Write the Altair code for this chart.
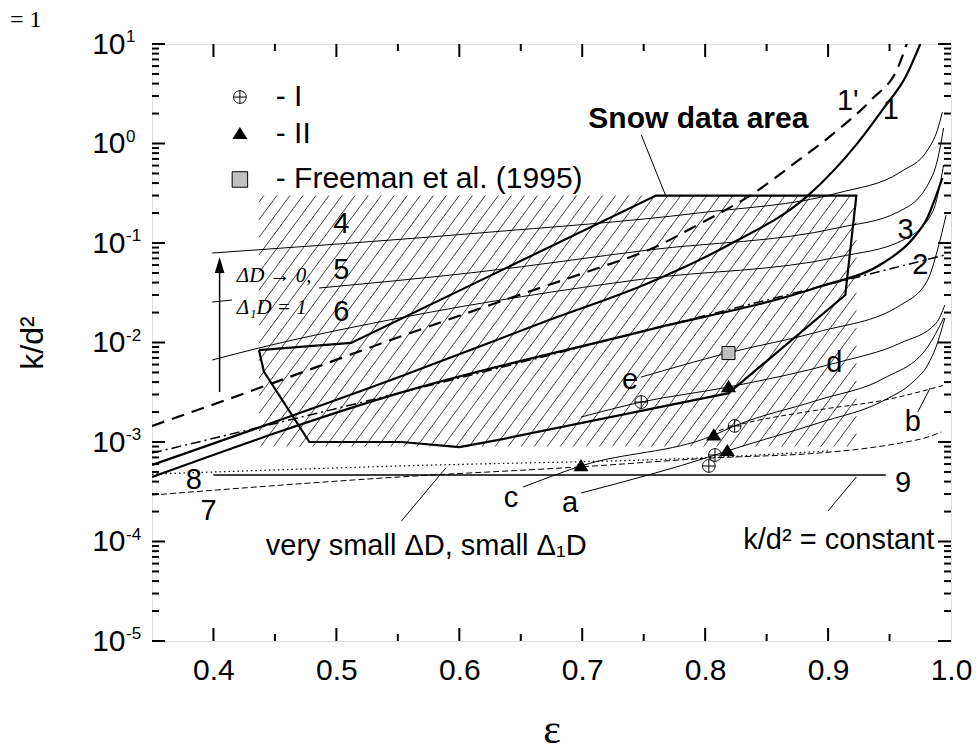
import altair as alt
import numpy as np
import pandas as pd

SANS = "Liberation Sans, Arial, sans-serif"
SERIF = "Liberation Serif, Times New Roman, serif"

EPS_DOMAIN = [0.35, 1.0]
K_DOMAIN = [1e-5, 10.0]
X_MAJOR = [0.4, 0.5, 0.6, 0.7, 0.8, 0.9, 1.0]
X_MINOR = [0.45, 0.55, 0.65, 0.75, 0.85, 0.95]
Y_MAJOR = [1e-5, 1e-4, 1e-3, 1e-2, 1e-1, 1e0, 1e1]
Y_EXP = ["-5", "-4", "-3", "-2", "-1", "0", "1"]
Y_MINOR = [m * 10.0 ** p for p in range(-5, 1) for m in range(2, 10)]

# ---- curves (eps, k/d^2) ----
C1P_EPS = [0.350, 0.410, 0.551, 0.632, 0.713, 0.754, 0.794, 0.841, 0.873, 0.908, 0.935, 0.957, 0.964]
C1P_K = [1.45e-3, 2.64e-3, 1.135e-2, 2.55e-2, 5.61e-2, 8.51e-2, 0.152, 0.326, 0.637, 1.37, 2.74, 5.87, 10.0]
C1_EPS = [0.350, 0.551, 0.673, 0.754, 0.819, 0.884, 0.924, 0.946, 0.963, 0.975]
C1_K = [5.87e-4, 4.50e-3, 1.68e-2, 3.96e-2, 9.55e-2, 0.303, 1.01, 2.33, 4.66, 10.0]
C2_EPS = [0.350, 0.551, 0.754, 0.892, 0.995]
C2_K = [7.74e-4, 3.10e-3, 1.34e-2, 3.61e-2, 7.57e-2]
C3_EPS = [0.350, 0.551, 0.754, 0.892, 0.946, 0.968, 0.981, 0.989, 0.993]
C3_K = [4.45e-4, 3.10e-3, 1.34e-2, 3.61e-2, 6.44e-2, 0.107, 0.182, 0.326, 0.45]
C4_EPS = [0.399, 0.616, 0.794, 0.908, 0.959, 0.981, 0.989, 0.993]
C4_K = [7.93e-2, 0.126, 0.200, 0.318, 0.518, 0.861, 1.37, 2.07]
C5_EPS = [0.486, 0.616, 0.754, 0.908, 0.957, 0.981, 0.989, 0.994]
C5_K = [3.53e-2, 5.12e-2, 8.51e-2, 0.142, 0.205, 0.383, 0.683, 1.43]
C5S_EPS = [0.399, 0.415]
C5S_K = [2.55e-2, 2.67e-2]
C6_EPS = [0.399, 0.437, 0.551, 0.750, 0.908, 0.961, 0.985, 0.994]
C6_K = [6.67e-3, 8.81e-3, 1.76e-2, 4.35e-2, 7.23e-2, 0.107, 0.205, 0.608]
E_EPS = [0.748, 0.818, 0.892, 0.959, 0.981, 0.989, 0.996]
E_K = [4.50e-3, 7.83e-3, 1.28e-2, 2.38e-2, 4.25e-2, 8.51e-2, 0.191]
D_EPS = [0.699, 0.748, 0.819, 0.906, 0.959, 0.988, 0.995]
D_K = [1.78e-3, 2.52e-3, 3.57e-3, 6.22e-3, 9.89e-3, 1.57e-2, 2.38e-2]
CC_EPS = [0.652, 0.699, 0.807, 0.824, 0.892, 0.946, 0.981, 0.994]
CC_K = [3.53e-4, 5.74e-4, 1.17e-3, 1.45e-3, 2.64e-3, 4.40e-3, 9.02e-3, 1.76e-2]
A_EPS = [0.699, 0.808, 0.818, 0.892, 0.946, 0.969, 0.981, 0.989, 0.995]
A_K = [3.07e-4, 7.40e-4, 8.13e-4, 1.55e-3, 2.64e-3, 4.01e-3, 5.94e-3, 9.89e-3, 1.76e-2]
B_EPS = [0.805, 0.824, 0.892, 0.946, 0.995]
B_K = [1.23e-3, 1.45e-3, 2.10e-3, 2.64e-3, 3.74e-3]
L7_EPS = [0.350, 0.551, 0.697, 0.805, 0.892, 0.933, 0.959, 0.981, 0.992]
L7_K = [2.93e-4, 4.45e-4, 5.61e-4, 6.90e-4, 7.74e-4, 8.71e-4, 9.77e-4, 1.12e-3, 1.26e-3]
L8_EPS = [0.350, 0.551, 0.811, 0.900]
L8_K = [4.76e-4, 5.74e-4, 7.06e-4, 8.13e-4]
L9_EPS = [0.400, 0.947]
L9_K = [4.66e-4, 4.66e-4]

# snow data area outline
POLY_EPS = [0.437, 0.512, 0.760, 0.923, 0.914, 0.819, 0.632, 0.600, 0.553, 0.478, 0.441, 0.437]
POLY_K = [8.4e-3, 9.9e-3, 0.30, 0.30, 3.0e-2, 3.1e-3, 1.05e-3, 8.9e-4, 1.0e-3, 1.0e-3, 5.1e-3, 8.4e-3]

# hatched region
HATCH_EPS = [0.437, 0.923]
HATCH_K = [9.0e-4, 0.30]
HATCH_STEP = 0.0106
HATCH_SLOPE = 16.7  # decades per unit eps

# measured points
CIRC_EPS = [0.748, 0.824, 0.808, 0.803]
CIRC_K = [2.52e-3, 1.45e-3, 7.40e-4, 5.74e-4]
TRI_EPS = [0.699, 0.807, 0.818, 0.819]
TRI_K = [5.74e-4, 1.17e-3, 8.13e-4, 3.57e-3]
SQ_EPS = [0.819]
SQ_K = [7.83e-3]

# legend
LEG_EPS = 0.4215
LEG_TEXT_EPS = 0.4507
LEG_K = [2.93, 1.25, 0.435]
LEG_TEXT = ["- I", "- II", "- Freeman et al. (1995)"]

# curve labels
LAB_TEXT = ["1'", "1", "2", "3", "4", "5", "6", "7", "8", "9", "a", "b", "c", "d", "e"]
LAB_EPS = [0.916, 0.951, 0.975, 0.963, 0.504, 0.504, 0.504, 0.396, 0.384, 0.961, 0.690, 0.969, 0.642, 0.905, 0.739]
LAB_K = [2.67, 2.17, 0.0601, 0.135, 0.155, 0.0536, 0.0203, 2.03e-4, 4.15e-4, 3.87e-4, 2.44e-4, 1.59e-3, 2.74e-4, 6.22e-3, 4.20e-3]

# pointer lines
PTR_EPS = [0.553, 0.900, 0.973, 0.748]
PTR_K = [1.61e-4, 2.03e-4, 2.00e-3, 1.22]
PTR_EPS2 = [0.589, 0.923, 0.983, 0.768]
PTR_K2 = [5.48e-4, 4.45e-4, 3.49e-3, 0.297]

ARROW_EPS = 0.405
ARROW_K = [3.18e-3, 0.066]
ARROW_HEAD_K = 0.0601

W, H = 799, 597

X_ENC = alt.X(
    "eps:Q",
    scale=alt.Scale(domain=EPS_DOMAIN, nice=False, zero=False),
    axis=alt.Axis(
        values=X_MAJOR, format=".1f", labelFontSize=30, labelFont=SANS, labelColor="black",
        labelPadding=14, ticks=False, domain=False, grid=False, labelFlush=False,
        labelOverlap=False, title="ε", titleFont=SERIF, titleFontSize=42,
        titleFontWeight="normal", titleColor="black", titleX=W / 2, titleY=101,
        titleBaseline="alphabetic", titleAlign="center",
    ),
)
Y_ENC = alt.Y(
    "k:Q",
    scale=alt.Scale(type="log", domain=K_DOMAIN, nice=False),
    axis=alt.Axis(
        values=Y_MAJOR, labelExpr="'10'", labelFontSize=30, labelFont=SANS, labelColor="black",
        labelPadding=27, labelAlign="right", labelBaseline="middle", ticks=False,
        domain=False, grid=False, labelOverlap=False, labelFlush=False,
        title="k/d²", titleFont=SANS, titleFontSize=32, titleFontWeight="normal",
        titleColor="black", titleX=-120, titleY=H / 2, titleAngle=270,
        titleAlign="center", titleBaseline="middle",
    ),
)


def line(eps, k, width=1.0, dash=None, interp="monotone"):
    df = pd.DataFrame({"eps": eps, "k": k, "i": list(range(len(eps)))})
    props = dict(color="black", strokeWidth=width, interpolate=interp, clip=True)
    if dash:
        props["strokeDash"] = dash
    return alt.Chart(df).mark_line(**props).encode(x=X_ENC, y=Y_ENC, order="i:Q")


# hatch segments
lo, hi = np.log10(HATCH_K[0]), np.log10(HATCH_K[1])
span = (hi - lo) / HATCH_SLOPE
rows = []
e = HATCH_EPS[0] - span + 0.004
while e < HATCH_EPS[1]:
    s = max(e, HATCH_EPS[0])
    t = min(e + span, HATCH_EPS[1])
    if t > s:
        rows.append({"eps": s, "k": 10 ** (lo + HATCH_SLOPE * (s - e)),
                     "eps2": t, "k2": 10 ** (lo + HATCH_SLOPE * (t - e))})
    e += HATCH_STEP
hatch = alt.Chart(pd.DataFrame(rows)).mark_rule(color="#111", strokeWidth=0.8).encode(
    x=X_ENC, y=Y_ENC, x2="eps2:Q", y2="k2:Q")

layers = [hatch]

# tick marks (inward)
ymaj = pd.DataFrame({"k": Y_MAJOR})
ymin = pd.DataFrame({"k": Y_MINOR})
xmaj = pd.DataFrame({"eps": X_MAJOR[:-1]})
xmin = pd.DataFrame({"eps": X_MINOR})
for df, ln in [(ymaj, 13), (ymin, 7)]:
    layers.append(alt.Chart(df).mark_rule(color="black", strokeWidth=2).encode(
        y=Y_ENC, x=alt.value(0), x2=alt.value(ln)))
    layers.append(alt.Chart(df).mark_rule(color="black", strokeWidth=2).encode(
        y=Y_ENC, x=alt.value(W), x2=alt.value(W - ln)))
for df, ln in [(xmaj, 13), (xmin, 7)]:
    layers.append(alt.Chart(df).mark_rule(color="black", strokeWidth=2).encode(
        x=X_ENC, y=alt.value(0), y2=alt.value(ln)))
    layers.append(alt.Chart(df).mark_rule(color="black", strokeWidth=2).encode(
        x=X_ENC, y=alt.value(H), y2=alt.value(H - ln)))

# exponents of y tick labels
exp_df = pd.DataFrame({"k": Y_MAJOR, "t": Y_EXP})
layers.append(alt.Chart(exp_df).mark_text(align="left", baseline="middle", dy=-7,
                                          fontSize=17, font=SANS, color="black").encode(
    y=Y_ENC, x=alt.value(-26), text="t:N"))

# curves
layers += [
    line(C1P_EPS, C1P_K, 2.2, [13, 8]),
    line(C1_EPS, C1_K, 2.2),
    line(C3_EPS, C3_K, 2.2),
    line(C2_EPS, C2_K, 1.5, [10, 4, 2, 4]),
    line(C4_EPS, C4_K, 1.0),
    line(C5_EPS, C5_K, 1.0),
    line(C5S_EPS, C5S_K, 1.0),
    line(C6_EPS, C6_K, 1.0),
    line(E_EPS, E_K, 1.0),
    line(D_EPS, D_K, 1.0),
    line(CC_EPS, CC_K, 1.0),
    line(A_EPS, A_K, 1.0),
    line(B_EPS, B_K, 1.0, [5, 3]),
    line(L7_EPS, L7_K, 1.0, [6, 3]),
    line(L8_EPS, L8_K, 1.2, [1.5, 3]),
    line(L9_EPS, L9_K, 1.6, interp="linear"),
    line(POLY_EPS, POLY_K, 2.2, interp="linear"),
]

# pointers and arrow
ptr = pd.DataFrame({"eps": PTR_EPS, "k": PTR_K, "eps2": PTR_EPS2, "k2": PTR_K2})
layers.append(alt.Chart(ptr).mark_rule(color="black", strokeWidth=1).encode(
    x=X_ENC, y=Y_ENC, x2="eps2:Q", y2="k2:Q"))
arr = pd.DataFrame({"eps": [ARROW_EPS], "k": [ARROW_K[0]], "k2": [ARROW_K[1]]})
layers.append(alt.Chart(arr).mark_rule(color="black", strokeWidth=1.5).encode(
    x=X_ENC, y=Y_ENC, y2="k2:Q"))
layers.append(alt.Chart(pd.DataFrame({"eps": [ARROW_EPS], "k": [ARROW_HEAD_K]})).mark_point(
    shape="M0,-1L0.6,1L-0.6,1Z", size=256, filled=True, color="black", opacity=1).encode(
    x=X_ENC, y=Y_ENC))

# markers
CPLUS = "M-1,0A1,1,0,1,1,1,0A1,1,0,1,1,-1,0ZM-1,0L1,0M0,-1L0,1"
TRI = "M0,-1L1.1,0.75L-1.1,0.75Z"
layers.append(alt.Chart(pd.DataFrame({"eps": CIRC_EPS + [LEG_EPS], "k": CIRC_K + [LEG_K[0]]}))
              .mark_point(shape=CPLUS, size=160, filled=False, color="black", strokeWidth=1,
                          opacity=1).encode(x=X_ENC, y=Y_ENC))
layers.append(alt.Chart(pd.DataFrame({"eps": TRI_EPS + [LEG_EPS], "k": TRI_K + [LEG_K[1]]}))
              .mark_point(shape=TRI, size=190, filled=True, color="black", opacity=1)
              .encode(x=X_ENC, y=Y_ENC))
layers.append(alt.Chart(pd.DataFrame({"eps": SQ_EPS, "k": SQ_K}))
              .mark_point(shape="square", size=170, filled=True, fill="#c0c0c0",
                          stroke="black", strokeWidth=1, opacity=1).encode(x=X_ENC, y=Y_ENC))
layers.append(alt.Chart(pd.DataFrame({"eps": [LEG_EPS], "k": [LEG_K[2]]}))
              .mark_point(shape="square", size=240, filled=True, fill="#c0c0c0",
                          stroke="black", strokeWidth=1, opacity=1).encode(x=X_ENC, y=Y_ENC))

# legend text
layers.append(alt.Chart(pd.DataFrame({"eps": [LEG_TEXT_EPS] * 3, "k": LEG_K, "t": LEG_TEXT}))
              .mark_text(align="left", baseline="middle", fontSize=30, font=SANS, color="black")
              .encode(x=X_ENC, y=Y_ENC, text="t:N"))

# curve labels
layers.append(alt.Chart(pd.DataFrame({"eps": LAB_EPS, "k": LAB_K, "t": LAB_TEXT}))
              .mark_text(align="center", baseline="middle", fontSize=29, font=SANS, color="black")
              .encode(x=X_ENC, y=Y_ENC, text="t:N"))


def note(txt, eps, k, size=29, align="left", baseline="middle", font=SANS, weight="normal",
         style="normal"):
    df = pd.DataFrame({"eps": [eps], "k": [k], "t": [txt]})
    return alt.Chart(df).mark_text(align=align, baseline=baseline, fontSize=size, font=font,
                                   fontWeight=weight, fontStyle=style, color="black").encode(
        x=X_ENC, y=Y_ENC, text="t:N")


layers += [
    note("Snow data area", 0.884, 1.43, 30, "right", "alphabetic", weight="bold"),
    note("very small ΔD, small Δ₁D", 0.4426, 9.0e-5, 29),
    note("k/d² = constant", 0.831, 1.04e-4, 29),
    note("ΔD → 0,", 0.419, 0.0466, 21, font=SERIF, style="italic"),
    note("Δ₁D = 1", 0.419, 0.0222, 21, font=SERIF, style="italic"),
]

# stray fragment at top-left
layers.append(alt.Chart(pd.DataFrame({"t": ["= 1"]})).mark_text(
    align="left", baseline="alphabetic", fontSize=24, font=SERIF, color="black").encode(
    x=alt.value(-142), y=alt.value(-17), text="t:N"))

chart = alt.layer(*layers).properties(
    width=W, height=H,
    autosize=alt.AutoSizeParams(type="none"),
    padding={"left": 152, "top": 44, "right": 25, "bottom": 112},
    background="white",
).configure_view(stroke="black", strokeWidth=2.5).configure(font=SANS)

chart.save("out.html", embed_options={"renderer": "svg", "actions": False})
